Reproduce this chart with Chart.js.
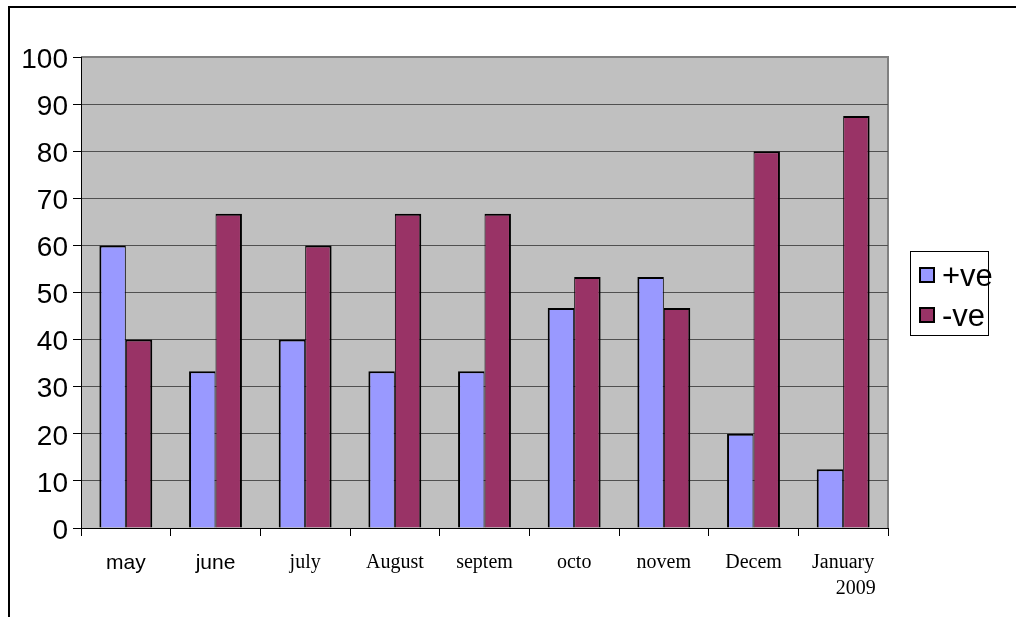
<!DOCTYPE html>
<html>
<head>
<meta charset="utf-8">
<style>
  html, body { margin: 0; padding: 0; background: #ffffff; }
  canvas { display: block; }
</style>
<script src="https://cdn.jsdelivr.net/npm/chart.js@4/dist/chart.umd.min.js"></script>
</head>
<body>
<canvas id="chart" width="1016" height="617"></canvas>
<script>
// Monthly share of positive / negative responses (percent)
const categories = ['may', 'june', 'july', 'August', 'septem', 'octo', 'novem', 'Decem', ['January', '     2009']];
const seriesNames = ['+ve', '-ve'];
const positiveValues = [60, 33.3, 40, 33.3, 33.3, 46.7, 53.3, 20, 12.5];
const negativeValues = [40, 66.7, 60, 66.7, 66.7, 53.3, 46.7, 80, 87.5];
const yTicks = { min: 0, max: 100, step: 10 };

const SANS = "'Liberation Sans', Arial, sans-serif";
const SERIF = "'Liberation Serif', 'Times New Roman', serif";

// Grey plot area with lighter top/right edges, plus the outer frame lines
const plotBackground = {
  id: 'plotBackground',
  beforeDraw(chart) {
    const { ctx, chartArea: a } = chart;
    ctx.save();
    ctx.fillStyle = '#ffffff';
    ctx.fillRect(0, 0, chart.width, chart.height);
    // outer frame (top and left)
    ctx.strokeStyle = '#000000';
    ctx.lineWidth = 2;
    ctx.beginPath();
    ctx.moveTo(9, chart.height);
    ctx.lineTo(9, 7);
    ctx.lineTo(chart.width, 7);
    ctx.stroke();
    // plot area
    ctx.fillStyle = '#c0c0c0';
    ctx.fillRect(a.left, a.top, a.right - a.left, a.bottom - a.top);
    ctx.strokeStyle = '#808080';
    ctx.lineWidth = 2;
    ctx.beginPath();
    ctx.moveTo(a.left, a.top);
    ctx.lineTo(a.right, a.top);
    ctx.lineTo(a.right, a.bottom);
    ctx.stroke();
    ctx.restore();
  }
};

// Boxed legend to the right of the plot
const boxedLegend = {
  id: 'boxedLegend',
  afterDraw(chart) {
    const { ctx } = chart;
    const datasets = chart.data.datasets;
    ctx.save();
    ctx.strokeStyle = '#000000';
    ctx.lineWidth = 1;
    ctx.strokeRect(910.5, 251.5, 78, 84);
    ctx.font = '31px ' + SANS;
    ctx.textBaseline = 'middle';
    ctx.textAlign = 'left';
    datasets.forEach((ds, i) => {
      const y = 268 + i * 40;
      ctx.fillStyle = ds.backgroundColor;
      ctx.fillRect(920, y, 14, 14);
      ctx.lineWidth = 2;
      ctx.strokeStyle = '#000000';
      ctx.strokeRect(920, y, 14, 14);
      ctx.fillStyle = '#000000';
      ctx.fillText(ds.label, 942, y + 9);
    });
    ctx.restore();
  }
};

new Chart(document.getElementById('chart'), {
  type: 'bar',
  data: {
    labels: categories,
    datasets: [
      {
        label: seriesNames[0],
        data: positiveValues,
        backgroundColor: '#9999ff',
        borderColor: '#000000',
        borderWidth: { top: 2, left: 2, right: 1, bottom: 0 },
        borderSkipped: 'start',
        categoryPercentage: 0.59,
        barPercentage: 1.0
      },
      {
        label: seriesNames[1],
        data: negativeValues,
        backgroundColor: '#993366',
        borderColor: '#000000',
        borderWidth: { top: 2, left: 1, right: 2, bottom: 0 },
        borderSkipped: 'start',
        categoryPercentage: 0.59,
        barPercentage: 1.0
      }
    ]
  },
  options: {
    responsive: false,
    animation: false,
    devicePixelRatio: 1,
    layout: { padding: { left: 0, top: 57, right: 128, bottom: 0 } },
    plugins: {
      legend: { display: false },
      tooltip: { enabled: false }
    },
    scales: {
      x: {
        grid: {
          offset: true,
          drawOnChartArea: false,
          drawTicks: true,
          tickLength: 8,
          tickColor: '#000000',
          lineWidth: 1
        },
        border: { display: true, color: '#000000', width: 1 },
        ticks: {
          color: '#000000',
          padding: 14,
          maxRotation: 0,
          autoSkip: false,
          font: (c) => c.index < 2
            ? { family: SANS, size: 21, lineHeight: '26px' }
            : { family: SERIF, size: 20, lineHeight: '26px' }
        },
        afterFit(scale) { scale.height = 89; }
      },
      y: {
        min: yTicks.min,
        max: yTicks.max,
        grid: {
          color: (c) => (c.tick && c.tick.value === yTicks.max) ? '#808080' : '#505050',
          lineWidth: 1,
          drawTicks: true,
          tickLength: 8,
          tickColor: '#000000'
        },
        border: { display: true, color: '#000000', width: 1 },
        ticks: {
          stepSize: yTicks.step,
          color: '#000000',
          padding: 5,
          // empty leading line nudges each number slightly below its tick
          callback: (value) => ['', String(value)],
          font: { family: SANS, size: 28, lineHeight: '6px' }
        },
        afterFit(scale) { scale.width = 81; }
      }
    }
  },
  plugins: [plotBackground, boxedLegend]
});
</script>
</body>
</html>
